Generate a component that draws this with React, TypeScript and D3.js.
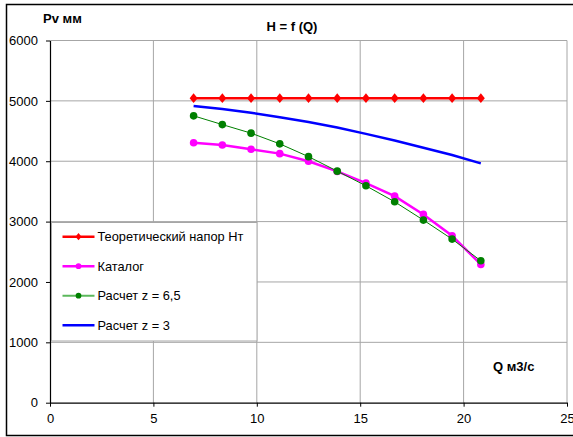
import * as d3 from 'd3';
import { useEffect, useRef } from 'react';

// Q, м3/с (25000..75000 м3/ч шагом 5000)
const qValues = [6.944, 8.333, 9.722, 11.111, 12.5, 13.889, 15.278, 16.667, 18.056, 19.444, 20.833];
const theoretical = [5045, 5045, 5045, 5045, 5045, 5045, 5045, 5045, 5045, 5045, 5045];
const catalog = [4305, 4270, 4198, 4126, 4000, 3831, 3637, 3422, 3119, 2765, 2290];
const calc65 = [4752, 4607, 4465, 4288, 4076, 3836, 3593, 3328, 3025, 2710, 2351];
const calc3 = [4915, 4866, 4802, 4730, 4650, 4558, 4453, 4342, 4224, 4102, 3965];

const xTicks = [0, 5, 10, 15, 20, 25];
const yTicks = [0, 1000, 2000, 3000, 4000, 5000, 6000];

const legendNames = ['Теоретический напор Нт', 'Каталог', 'Расчет z = 6,5', 'Расчет z = 3'];

function App() {
    const elementRef = useRef(null);

    useEffect(() => {
        const svg = d3.select(elementRef.current);
        svg.selectAll('*').remove();

        const width = 573;
        const height = 437;
        const margin = { top: 40.5, right: 6, bottom: 34.3, left: 50 };
        const font = 'Liberation Sans, Arial, sans-serif';

        // рамка диаграммы
        svg.append('rect')
            .attr('x', 6.5).attr('y', 4.5)
            .attr('width', 570).attr('height', 431)
            .attr('fill', '#fff')
            .attr('stroke', '#000')
            .attr('stroke-width', 1.5);

        const x = d3.scaleLinear()
            .domain([0, 25])
            .range([margin.left, width - margin.right]);
        const y = d3.scaleLinear()
            .domain([0, 6000])
            .range([height - margin.bottom, margin.top]);

        // сетка
        svg.append('g')
            .selectAll('line')
            .data(xTicks.slice(1))
            .join('line')
            .attr('x1', d => x(d)).attr('x2', d => x(d))
            .attr('y1', y(0)).attr('y2', y(6000))
            .attr('stroke', '#a6a6a6');
        svg.append('g')
            .selectAll('line')
            .data(yTicks.slice(1))
            .join('line')
            .attr('x1', x(0)).attr('x2', x(25))
            .attr('y1', d => y(d)).attr('y2', d => y(d))
            .attr('stroke', '#a6a6a6');

        // оси
        const xAxis = svg.append('g')
            .attr('transform', `translate(0,${y(0)})`)
            .call(d3.axisBottom(x).tickValues(xTicks).tickFormat(d3.format('d')).tickSize(4).tickPadding(7).tickSizeOuter(0));
        const yAxis = svg.append('g')
            .attr('transform', `translate(${x(0)},0)`)
            .call(d3.axisLeft(y).tickValues(yTicks).tickFormat(d3.format('d')).tickSize(4).tickPadding(7).tickSizeOuter(0));
        [xAxis, yAxis].forEach(a => {
            a.select('.domain').attr('stroke', '#000').attr('stroke-width', 1.2);
            a.selectAll('.tick line').attr('stroke', '#000');
            a.selectAll('text')
                .attr('font-family', font)
                .attr('font-size', 13)
                .attr('fill', '#000');
        });
        yAxis.selectAll('text').attr('dx', -1);

        const series = [
            { values: theoretical, color: '#ff0000', width: 2.5, marker: 'diamond', r: 4 },
            { values: catalog, color: '#ff00ff', width: 2.5, marker: 'circle', r: 3.8 },
            { values: calc65, color: '#008000', width: 1, marker: 'circle', r: 3.8 },
            { values: calc3, color: '#0000ff', width: 2.5, marker: 'none', r: 0 },
        ];

        const line = d3.line<number>()
            .x((d, i) => x(qValues[i]))
            .y(d => y(d));

        const drawMarker = (g, mx, my, s, scale) => {
            if (s.marker === 'diamond') {
                const r = s.r * scale;
                g.append('path')
                    .attr('d', `M${mx},${my - r * 1.2}L${mx + r},${my}L${mx},${my + r * 1.2}L${mx - r},${my}Z`)
                    .attr('fill', s.color);
            } else if (s.marker === 'circle') {
                g.append('circle')
                    .attr('cx', mx).attr('cy', my)
                    .attr('r', s.r * scale)
                    .attr('fill', s.color);
            }
        };

        series.forEach(s => {
            svg.append('path')
                .datum(s.values)
                .attr('d', line)
                .attr('fill', 'none')
                .attr('stroke', s.color)
                .attr('stroke-width', s.width);
            const g = svg.append('g');
            s.values.forEach((v, i) => drawMarker(g, x(qValues[i]), y(v), s, 1));
        });

        // легенда
        const legend = svg.append('g');
        legend.append('rect')
            .attr('x', 51.5).attr('y', 222.5)
            .attr('width', 205.5).attr('height', 118.5)
            .attr('fill', '#fff')
            .attr('stroke', '#a6a6a6');
        series.forEach((s, i) => {
            const ly = 236.7 + i * 29.5;
            legend.append('line')
                .attr('x1', 62.5).attr('x2', 94.5)
                .attr('y1', ly).attr('y2', ly)
                .attr('stroke', i === 2 ? '#5cb85c' : s.color)
                .attr('stroke-width', i === 2 ? 2 : 2.5);
            drawMarker(legend, 78.5, ly, s, 0.75);
            legend.append('text')
                .attr('x', 97.5).attr('y', ly)
                .attr('dy', '0.35em')
                .attr('font-family', font)
                .attr('font-size', 12.8)
                .text(legendNames[i]);
        });

        // подписи
        svg.append('text')
            .attr('x', 292).attr('y', 26)
            .attr('dy', '0.35em')
            .attr('text-anchor', 'middle')
            .attr('font-family', font)
            .attr('font-size', 13)
            .attr('font-weight', 'bold')
            .text('H = f (Q)');
        svg.append('text')
            .attr('x', 43).attr('y', 18)
            .attr('dy', '0.35em')
            .attr('font-family', font)
            .attr('font-size', 13)
            .attr('font-weight', 'bold')
            .text('Pv мм');
        svg.append('text')
            .attr('x', 493).attr('y', 366)
            .attr('dy', '0.35em')
            .attr('font-family', font)
            .attr('font-size', 13)
            .attr('font-weight', 'bold')
            .text('Q м3/с');
    }, []);

    return (
        <svg
            ref={elementRef}
            width={573}
            height={437}
            style={{ position: 'absolute', left: 0, top: 0 }}
        />
    );
}

export default App;
